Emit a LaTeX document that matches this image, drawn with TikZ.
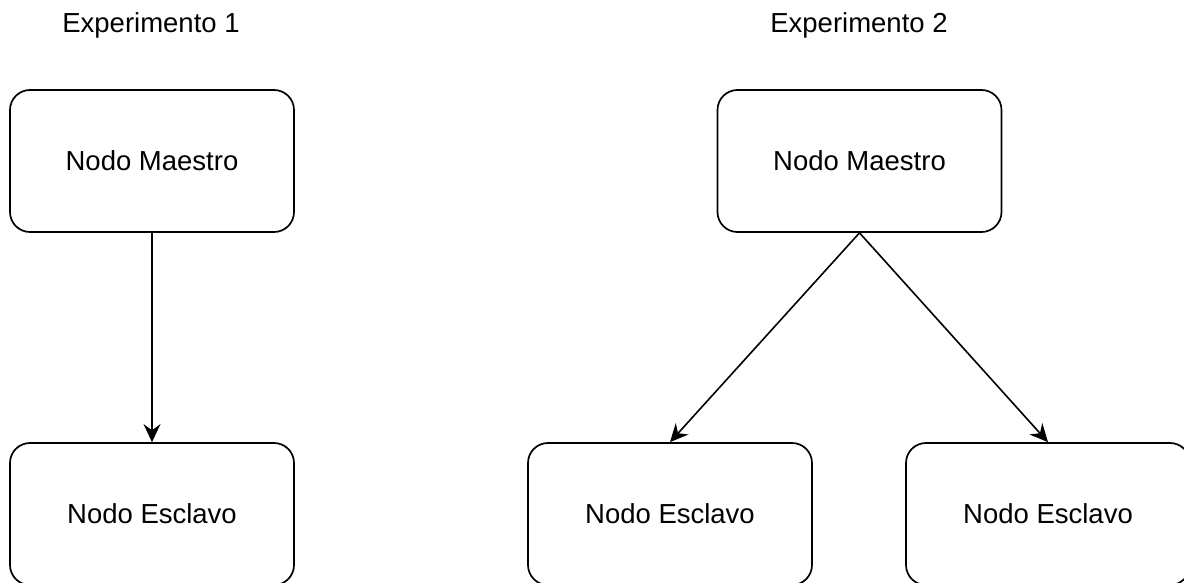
\documentclass[tikz,border=0pt]{standalone}
\usepackage{fontspec}
\setmainfont{Liberation Sans}
\usetikzlibrary{arrows.meta}
\begin{document}
\begin{tikzpicture}[x=1pt, y=-1pt,
  nodebox/.style={draw, line width=1.7pt, rounded corners=20pt,
    minimum width=284pt, minimum height=142pt, inner sep=0pt,
    font=\fontsize{27.5}{33}\selectfont},
  title/.style={anchor=base, font=\fontsize{27.5}{33}\selectfont},
  link/.style={line width=1.6pt, -{Stealth[length=18pt, width=17pt, inset=6pt]}}]
\useasboundingbox (0,0) rectangle (1184,583);
\clip (0,0) rectangle (1184,583);
% titles
\node[title] (t1) at (151,33) {Experimento 1};
\node[title] (t2) at (859,33) {Experimento 2};
% experiment 1
\node[nodebox] (m1) at (152,161) {Nodo Maestro};
\node[nodebox] (s1) at (152,514) {Nodo Esclavo};
\draw[link] (m1.south) -- (s1.north);
% experiment 2
\node[nodebox] (m2) at (859.5,161) {Nodo Maestro};
\node[nodebox] (s2) at (670,514) {Nodo Esclavo};
\node[nodebox] (s3) at (1048,514) {Nodo Esclavo};
\draw[link] (m2.south) -- (s2.north);
\draw[link] (m2.south) -- (s3.north);
\end{tikzpicture}
\end{document}
